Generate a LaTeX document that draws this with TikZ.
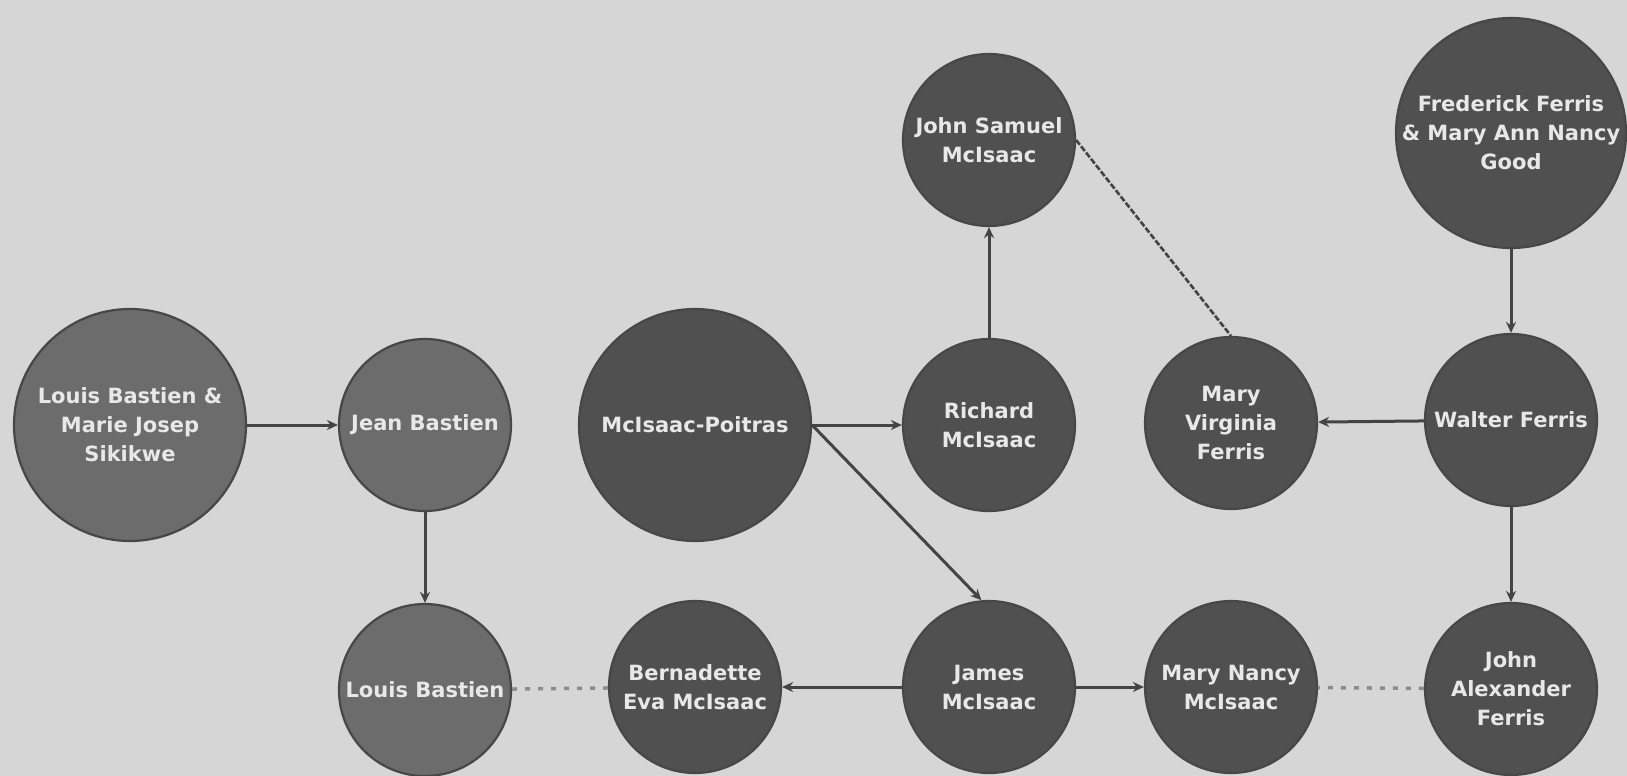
\documentclass[tikz,border=0pt]{standalone}
\usepackage{fontspec}
\setmainfont{DejaVu Sans}
\usetikzlibrary{arrows.meta}
\definecolor{bgc}{RGB}{214,214,214}
\definecolor{darkn}{RGB}{80,80,80}
\definecolor{lightn}{RGB}{108,108,108}
\definecolor{edgec}{RGB}{68,68,68}
\definecolor{dotc}{RGB}{140,140,140}
\definecolor{txtc}{RGB}{232,232,232}
\begin{document}
\begin{tikzpicture}[x=1pt,y=-1pt,
  person/.style={circle, draw=black!72, line width=2.2pt, fill=darkn, text=txtc,
    font=\bfseries\fontsize{21}{29}\selectfont, align=center, inner sep=0pt},
  small/.style={person, minimum size=172pt},
  big/.style={person, minimum size=232pt},
  bast/.style={fill=lightn},
  link/.style={draw=edgec, line width=3pt, -{Stealth[length=11pt,width=10pt]}},
  dashlink/.style={draw=edgec, line width=2.6pt, dash pattern=on 6pt off 2pt},
  dotlink/.style={draw=dotc, line width=3.5pt, dash pattern=on 5pt off 8pt}]
\fill[bgc] (0,0) rectangle (1627,776);
\useasboundingbox (0,0) rectangle (1627,776);
\node[big,bast] (lm) at (130,425) {Louis Bastien \&\\Marie Josep\\Sikikwe};
\node[small,bast] (jb) at (425,425) {Jean Bastien};
\node[small,bast] (lb) at (425,690) {Louis Bastien};
\node[big] (mp) at (695,425) {McIsaac-Poitras};
\node[small] (rm) at (989,425) {Richard\\McIsaac};
\node[small] (js) at (989,140) {John Samuel\\McIsaac};
\node[small] (mv) at (1231,423) {Mary\\Virginia\\Ferris};
\node[small] (wf) at (1511,420) {Walter Ferris};
\node[big, minimum size=228pt] (ff) at (1511,133) {Frederick Ferris\\\& Mary Ann Nancy\\Good};
\node[small] (ja) at (1511,689) {John\\Alexander\\Ferris};
\node[small] (mn) at (1231,687) {Mary Nancy\\McIsaac};
\node[small] (jm) at (989,687) {James\\McIsaac};
\node[small] (be) at (695,687) {Bernadette\\Eva McIsaac};
\draw[link] (lm) -- (jb);
\draw[link] (jb) -- (lb);
\draw[dotlink] (lb) -- (be);
\draw[link] (jm) -- (be);
\draw[link] (mp) -- (rm);
\draw[link] (mp.east) -- (jm.95);
\draw[link] (rm) -- (js);
\draw[dashlink] (js.east) -- (mv.north);
\draw[link] (wf) -- (mv);
\draw[link] (ff) -- (wf);
\draw[link] (wf) -- (ja);
\draw[link] (jm) -- (mn);
\draw[dotlink] (ja) -- (mn);
\end{tikzpicture}
\end{document}
